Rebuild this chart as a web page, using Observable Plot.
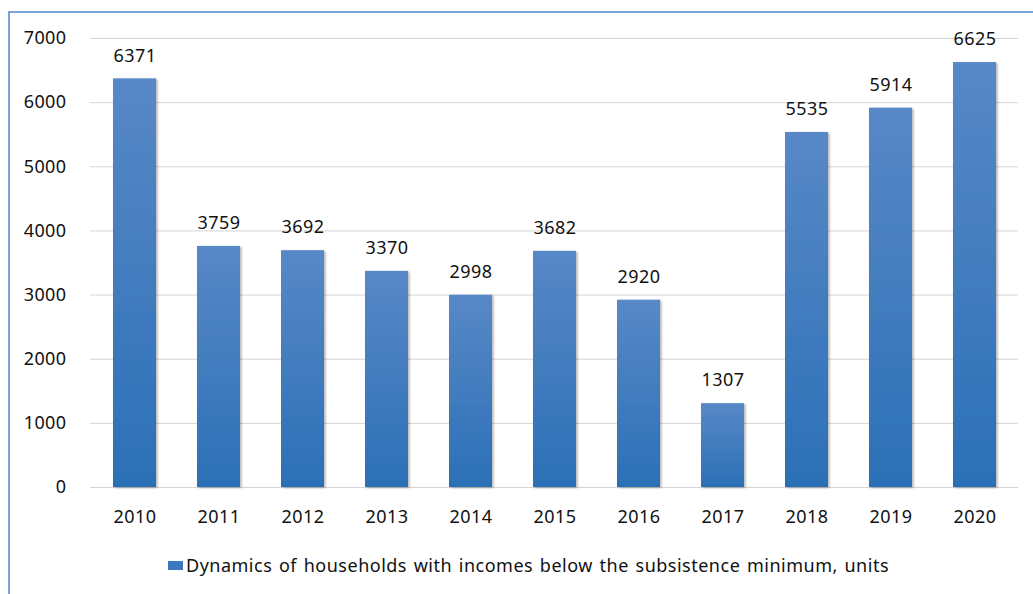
<!DOCTYPE html>
<html>
<head>
<meta charset="utf-8">
<script src="https://cdn.jsdelivr.net/npm/d3@7"></script>
<script src="https://cdn.jsdelivr.net/npm/@observablehq/plot@0.6"></script>
<style>
  html, body { margin: 0; padding: 0; background: #fff; }
  body { width: 1033px; height: 594px; position: relative; overflow: hidden; font-family: "Noto Sans", "DejaVu Sans", sans-serif; }
  #frame { position: absolute; left: 8px; top: 11px; width: 1100px; height: 700px; border-left: 2px solid #7aa3d6; border-top: 2px solid #7aa3d6; box-sizing: border-box; pointer-events: none; }
  #chart { position: absolute; left: 0; top: 0; }
  #legend { position: absolute; left: 168px; top: 553px; height: 24px; display: flex; align-items: center; font-size: 18px; color: #111; white-space: nowrap; letter-spacing: 0.5px; word-spacing: 1.5px; }
  #legend .sw { width: 15px; height: 9px; background: #3b78c0; margin-right: 3px; }
  svg text { letter-spacing: 0.4px; }
</style>
</head>
<body>
<div id="chart"></div>
<div id="legend"><span class="sw"></span><span id="legtext"></span></div>
<div id="frame"></div>
<script>
const years = ["2010","2011","2012","2013","2014","2015","2016","2017","2018","2019","2020"];
const households = [6371, 3759, 3692, 3370, 2998, 3682, 2920, 1307, 5535, 5914, 6625];
const yTicks = [0, 1000, 2000, 3000, 4000, 5000, 6000, 7000];
const seriesName = "Dynamics of households with incomes below the subsistence minimum, units";

const data = years.map((y, i) => ({year: y, value: households[i]}));

const defs = () => {
  const ns = "http://www.w3.org/2000/svg";
  const d = document.createElementNS(ns, "defs");
  d.innerHTML = `
    <linearGradient id="barGrad" x1="0" y1="0" x2="0" y2="1">
      <stop offset="0" stop-color="#5888c7"/>
      <stop offset="1" stop-color="#2b70b6"/>
    </linearGradient>
    <filter id="shadow" x="-10%" y="-10%" width="130%" height="120%">
      <feDropShadow dx="1.5" dy="1" stdDeviation="1" flood-color="#000" flood-opacity="0.3"/>
    </filter>`;
  return d;
};

const chart = Plot.plot({
  width: 1033,
  height: 545,
  marginLeft: 90,
  marginRight: 15,
  marginTop: 38,
  marginBottom: 58,
  style: {fontFamily: "'Noto Sans', 'DejaVu Sans', sans-serif", fontSize: "18px", color: "#111", background: "transparent"},
  x: {domain: years, paddingInner: 0.49, paddingOuter: 0.245, label: null},
  y: {domain: [0, 7000], ticks: yTicks, label: null},
  marks: [
    defs,
    Plot.gridY(yTicks, {stroke: "#d4d4d4", strokeOpacity: 1, strokeWidth: 1}),
    Plot.barY(data, {x: "year", y: "value", fill: "url(#barGrad)"}),
    Plot.text(data, {x: "year", y: "value", text: d => String(d.value), dy: -23, fontSize: 18, fill: "#111"}),
    Plot.axisY(yTicks, {tickSize: 0, tickPadding: 24, fontSize: 18, tickFormat: d => String(d)}),
    Plot.axisX({tickSize: 0, tickPadding: 23, fontSize: 18})
  ]
});
chart.querySelectorAll("g[aria-label='bar'] rect").forEach(r => r.setAttribute("filter", "url(#shadow)"));
document.getElementById("chart").appendChild(chart);
document.getElementById("legtext").textContent = seriesName;
</script>
</body>
</html>
